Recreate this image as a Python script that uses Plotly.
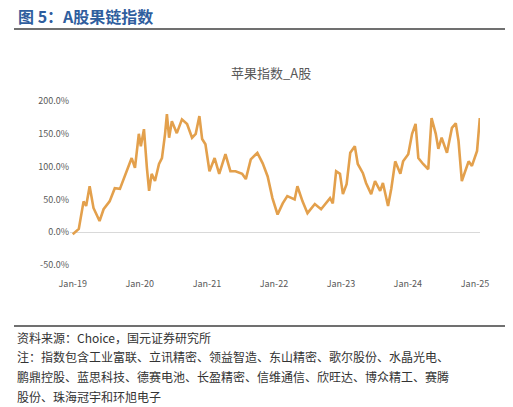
import plotly.graph_objects as go

# 苹果指数_A股 累计涨幅（%）
dates = [
    "2019-01-01", "2019-02-03", "2019-03-01", "2019-03-15", "2019-04-03", "2019-04-24",
    "2019-05-27", "2019-06-18", "2019-07-21", "2019-08-18", "2019-09-15", "2019-10-21",
    "2019-11-18", "2019-12-06", "2019-12-27", "2020-01-07", "2020-01-24", "2020-02-09",
    "2020-02-21", "2020-03-06", "2020-03-24", "2020-04-15", "2020-05-01", "2020-05-18",
    "2020-05-28", "2020-06-09", "2020-06-24", "2020-07-21", "2020-08-18", "2020-09-15",
    "2020-10-12", "2020-11-01", "2020-11-21", "2020-12-06", "2020-12-24", "2021-01-15",
    "2021-02-12", "2021-03-09", "2021-04-12", "2021-05-09", "2021-06-06", "2021-07-12",
    "2021-08-01", "2021-08-28", "2021-10-03", "2021-11-01", "2021-11-28", "2021-12-24",
    "2022-01-21", "2022-02-18", "2022-03-15", "2022-04-24", "2022-05-09", "2022-06-06",
    "2022-07-03", "2022-08-12", "2022-09-15", "2022-11-03", "2022-11-18", "2022-12-06",
    "2022-12-27", "2023-01-12", "2023-02-01", "2023-02-21", "2023-03-18", "2023-04-03",
    "2023-05-01", "2023-05-18", "2023-06-15", "2023-07-06", "2023-08-03", "2023-08-18",
    "2023-09-15", "2023-10-03", "2023-10-24", "2023-11-21", "2023-12-06", "2024-01-03",
    "2024-01-24", "2024-02-12", "2024-02-27", "2024-03-24", "2024-04-21", "2024-05-09",
    "2024-06-01", "2024-06-15", "2024-07-03", "2024-08-01", "2024-08-28", "2024-09-18",
    "2024-10-03", "2024-10-21", "2024-11-12", "2024-11-27", "2024-12-15", "2025-01-12",
    "2025-01-27",
]
values = [
    -3, 5, 47, 40, 70, 37,
    17, 35, 47, 67, 66, 93,
    113, 98, 150, 131, 157, 98,
    63, 89, 78, 104, 113, 150,
    180, 144, 169, 151, 172, 165,
    144, 150, 177, 142, 134, 93,
    113, 89, 119, 93, 93, 89,
    81, 111, 121, 105, 85, 52,
    27, 44, 55, 50, 70, 47,
    29, 43, 35, 52, 44, 93,
    89, 58, 73, 121, 131, 104,
    90, 75, 58, 78, 63, 75,
    40, 67, 108, 89, 108, 119,
    150, 165, 113, 104, 96, 174,
    150, 127, 144, 121, 159, 166,
    139, 78, 96, 108, 101, 124,
    174,
]
tick_dates = ["2019-01-01", "2020-01-01", "2021-01-01", "2022-01-01",
              "2023-01-01", "2024-01-01", "2025-01-01"]
tick_text = ["Jan-19", "Jan-20", "Jan-21", "Jan-22", "Jan-23", "Jan-24", "Jan-25"]
y_ticks = [-50, 0, 50, 100, 150, 200]

notes = [
    "资料来源：Choice，国元证券研究所",
    "注：指数包含工业富联、立讯精密、领益智造、东山精密、歌尔股份、水晶光电、",
    "鹏鼎控股、蓝思科技、德赛电池、长盈精密、信维通信、欣旺达、博众精工、赛腾",
    "股份、珠海冠宇和环旭电子",
]

W, H = 513, 407
ML, MR, MT, MB = 62, 41, 93, 150
PW, PH = W - ML - MR, H - MT - MB


def px(x):
    return (x - ML) / PW


def py(y_from_bottom):
    return (y_from_bottom - MB) / PH


fig = go.Figure(go.Scatter(
    x=dates, y=values, mode="lines",
    line=dict(color="#E3A04C", width=2.6),
))

blue = "#2F5E9E"
annots = [dict(text="<b>图 5：A股果链指数</b>", x=px(8), y=py(399),
               xref="paper", yref="paper", showarrow=False,
               xanchor="left", yanchor="middle", font=dict(size=16, color=blue))]
for i, t in enumerate(notes):
    annots.append(dict(text=t, x=px(7), y=py(78 - 19.7 * i), xref="paper", yref="paper",
                       showarrow=False, xanchor="left", yanchor="middle",
                       font=dict(size=12, color="#333333")))

fig.update_layout(
    width=W, height=H,
    margin=dict(l=ML, r=MR, t=MT, b=MB),
    paper_bgcolor="white", plot_bgcolor="white",
    showlegend=False,
    font=dict(family="Noto Sans CJK SC, sans-serif", color="#595959", size=9),
    title=dict(text="苹果指数_A股", x=0.513, xanchor="center", y=0.84, yanchor="middle",
               font=dict(size=13, color="#595959")),
    xaxis=dict(
        range=["2018-12-17", "2025-01-28"],
        tickvals=tick_dates, ticktext=tick_text,
        showgrid=False, showline=False, ticks="",
        ticklabelstandoff=12,
    ),
    yaxis=dict(
        range=[-50, 200], tickvals=y_ticks,
        ticktext=[f"{v:.1f}%" for v in y_ticks],
        showgrid=False, showline=False, ticks="",
        zeroline=True, zerolinecolor="#D9D9D9", zerolinewidth=1,
    ),
    annotations=annots,
)
for yb in (386, 89):
    fig.add_shape(type="line", xref="paper", yref="paper",
                  x0=px(6), x1=px(513), y0=py(yb), y1=py(yb),
                  line=dict(color="#404040", width=1.5))

fig.write_html("out.html")
